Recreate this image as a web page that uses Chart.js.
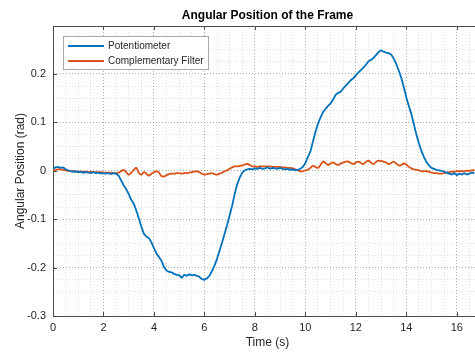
<!DOCTYPE html>
<html>
<head>
<meta charset="utf-8">
<script src="https://cdn.jsdelivr.net/npm/chart.js@4/dist/chart.umd.min.js"></script>
<style>
  html, body { margin: 0; padding: 0; background: #fff; }
  #wrap { width: 475px; height: 352px; overflow: hidden; }
  canvas { display: block; }
</style>
</head>
<body>
<div id="wrap"><canvas id="angle-chart" width="487" height="352"></canvas></div>
<script>
// Frame angle: potentiometer reading vs complementary filter estimate
const timeS = [
  0.0, 0.1, 0.2, 0.3, 0.4, 0.5, 0.6, 0.7, 0.8, 0.9,
  1.0, 1.1, 1.2, 1.3, 1.4, 1.5, 1.6, 1.7, 1.8, 1.9,
  2.0, 2.1, 2.2, 2.3, 2.4, 2.5, 2.6, 2.7, 2.8, 2.9,
  3.0, 3.1, 3.2, 3.3, 3.4, 3.5, 3.6, 3.7, 3.8, 3.9,
  4.0, 4.1, 4.2, 4.3, 4.4, 4.5, 4.6, 4.7, 4.8, 4.9,
  5.0, 5.1, 5.2, 5.3, 5.4, 5.5, 5.6, 5.7, 5.8, 5.9,
  6.0, 6.1, 6.2, 6.3, 6.4, 6.5, 6.6, 6.7, 6.8, 6.9,
  7.0, 7.1, 7.2, 7.3, 7.4, 7.5, 7.6, 7.7, 7.8, 7.9,
  8.0, 8.1, 8.2, 8.3, 8.4, 8.5, 8.6, 8.7, 8.8, 8.9,
  9.0, 9.1, 9.2, 9.3, 9.4, 9.5, 9.6, 9.7, 9.8, 9.9,
  10.0, 10.1, 10.2, 10.3, 10.4, 10.5, 10.6, 10.7, 10.8, 10.9,
  11.0, 11.1, 11.2, 11.3, 11.4, 11.5, 11.6, 11.7, 11.8, 11.9,
  12.0, 12.1, 12.2, 12.3, 12.4, 12.5, 12.6, 12.7, 12.8, 12.9,
  13.0, 13.1, 13.2, 13.3, 13.4, 13.5, 13.6, 13.7, 13.8, 13.9,
  14.0, 14.1, 14.2, 14.3, 14.4, 14.5, 14.6, 14.7, 14.8, 14.9,
  15.0, 15.1, 15.2, 15.3, 15.4, 15.5, 15.6, 15.7, 15.8, 15.9,
  16.0, 16.1, 16.2, 16.3, 16.4, 16.5, 16.6, 16.7
];

const potentiometer = [
  0.004, 0.007, 0.008, 0.006, 0.007, 0.003, 0.001, -0.001, -0.002, -0.001,
  -0.003, -0.002, -0.004, -0.003, -0.004, -0.005, -0.003, -0.005, -0.004, -0.006,
  -0.005, -0.006, -0.005, -0.007, -0.005, -0.006, -0.010, -0.020, -0.030, -0.038,
  -0.048, -0.060, -0.068, -0.082, -0.098, -0.115, -0.130, -0.136, -0.139, -0.148,
  -0.160, -0.171, -0.178, -0.186, -0.199, -0.206, -0.209, -0.210, -0.213, -0.215,
  -0.216, -0.221, -0.215, -0.217, -0.214, -0.216, -0.215, -0.217, -0.219, -0.224,
  -0.225, -0.222, -0.217, -0.207, -0.196, -0.182, -0.165, -0.148, -0.130, -0.112,
  -0.092, -0.072, -0.048, -0.028, -0.014, -0.004, 0.001, 0.003, 0.004, 0.003,
  0.005, 0.004, 0.006, 0.004, 0.005, 0.007, 0.004, 0.006, 0.005, 0.004,
  0.006, 0.004, 0.003, 0.004, 0.002, 0.003, 0.001, 0.002, 0.004, 0.008,
  0.016, 0.028, 0.040, 0.060, 0.080, 0.097, 0.110, 0.121, 0.128, 0.134,
  0.139, 0.147, 0.157, 0.161, 0.163, 0.170, 0.176, 0.181, 0.187, 0.191,
  0.197, 0.203, 0.208, 0.213, 0.219, 0.226, 0.229, 0.233, 0.239, 0.245,
  0.249, 0.246, 0.244, 0.243, 0.240, 0.232, 0.221, 0.207, 0.192, 0.173,
  0.152, 0.134, 0.117, 0.096, 0.075, 0.057, 0.041, 0.028, 0.018, 0.011,
  0.006, 0.004, 0.002, 0.001, 0.000, -0.002, -0.004, -0.006, -0.008, -0.005,
  -0.009, -0.006, -0.008, -0.005, -0.008, -0.006, -0.004, -0.005
];

const complementary = [
  -0.001, 0.002, 0.003, 0.003, 0.002, 0.001, 0.000, -0.001, -0.001, -0.002,
  -0.002, -0.002, -0.002, -0.002, -0.003, -0.002, -0.003, -0.003, -0.003, -0.003,
  -0.004, -0.004, -0.004, -0.004, -0.005, -0.005, -0.004, -0.001, 0.002, -0.003,
  -0.008, -0.004, 0.002, 0.006, -0.004, -0.008, -0.003, -0.006, -0.010, -0.006,
  -0.003, -0.001, -0.004, -0.011, -0.012, -0.009, -0.007, -0.006, -0.006, -0.005,
  -0.005, -0.006, -0.005, -0.005, -0.004, -0.003, -0.002, -0.001, -0.003, -0.006,
  -0.008, -0.007, -0.006, -0.005, -0.007, -0.008, -0.006, -0.004, -0.001, 0.001,
  0.004, 0.007, 0.009, 0.009, 0.010, 0.011, 0.013, 0.014, 0.012, 0.009,
  0.009, 0.008, 0.009, 0.009, 0.009, 0.009, 0.009, 0.008, 0.008, 0.008,
  0.008, 0.007, 0.007, 0.006, 0.006, 0.005, 0.003, 0.001, -0.001, -0.001,
  0.001, 0.002, 0.006, 0.010, 0.008, 0.006, 0.012, 0.019, 0.016, 0.012,
  0.015, 0.017, 0.014, 0.012, 0.015, 0.017, 0.019, 0.019, 0.016, 0.014,
  0.017, 0.019, 0.016, 0.014, 0.018, 0.021, 0.017, 0.014, 0.018, 0.021,
  0.020, 0.019, 0.017, 0.014, 0.016, 0.019, 0.015, 0.011, 0.012, 0.015,
  0.013, 0.008, 0.005, 0.003, 0.002, 0.001, -0.001, -0.001, -0.001, -0.002,
  -0.004, -0.005, -0.005, -0.006, -0.006, -0.005, -0.004, -0.003, -0.002, -0.002,
  -0.001, -0.001, -0.001, -0.001, 0.000, 0.000, 0.001, 0.001
];

const seriesLabels = ['Potentiometer', 'Complementary Filter'];
const xMajorStep = 2;
const yMajorStep = 0.1;

const FONT = "'Liberation Sans', Arial, Helvetica, sans-serif";
const AXIS_COLOR = '#4a4a4a';
const TEXT_COLOR = '#262626';

function isMajor(value, step) {
  const r = value / step;
  return Math.abs(r - Math.round(r)) < 1e-6;
}

function toPoints(values) {
  return values.map((v, i) => ({ x: timeS[i], y: v }));
}

// title centred over the plot box
const titlePlugin = {
  id: 'boxTitle',
  afterDraw(chart) {
    const { ctx, chartArea } = chart;
    ctx.save();
    ctx.font = `bold 12px ${FONT}`;
    ctx.fillStyle = '#000';
    ctx.textAlign = 'center';
    ctx.textBaseline = 'middle';
    ctx.fillText('Angular Position of the Frame', (chartArea.left + chartArea.right) / 2, 16);
    ctx.restore();
  }
};

// top box edge and inward major ticks
const boxPlugin = {
  id: 'boxTicks',
  afterDraw(chart) {
    const { ctx, chartArea, scales } = chart;
    const x = scales.x;
    const y = scales.y;
    ctx.save();
    ctx.strokeStyle = AXIS_COLOR;
    ctx.lineWidth = 1;
    ctx.beginPath();
    ctx.moveTo(chartArea.left, chartArea.top + 0.5);
    ctx.lineTo(chartArea.right, chartArea.top + 0.5);
    x.ticks.forEach(t => {
      if (!isMajor(t.value, xMajorStep)) return;
      const px = Math.round(x.getPixelForValue(t.value)) + 0.5;
      ctx.moveTo(px, chartArea.bottom);
      ctx.lineTo(px, chartArea.bottom - 4);
      ctx.moveTo(px, chartArea.top);
      ctx.lineTo(px, chartArea.top + 4);
    });
    y.ticks.forEach(t => {
      if (!isMajor(t.value, yMajorStep)) return;
      const py = Math.round(y.getPixelForValue(t.value)) + 0.5;
      ctx.moveTo(chartArea.left, py);
      ctx.lineTo(chartArea.left + 4, py);
    });
    ctx.stroke();
    ctx.restore();
  }
};

// boxed legend in the upper left corner
const legendPlugin = {
  id: 'boxLegend',
  afterDraw(chart) {
    const { ctx } = chart;
    const left = 63.5, top = 36.5, w = 145, h = 33;
    ctx.save();
    ctx.fillStyle = '#fff';
    ctx.fillRect(left, top, w, h);
    ctx.strokeStyle = '#a8a8a8';
    ctx.lineWidth = 1;
    ctx.strokeRect(left, top, w, h);
    ctx.font = `10px ${FONT}`;
    ctx.textBaseline = 'middle';
    chart.data.datasets.forEach((ds, i) => {
      const rowY = 46 + i * 15;
      ctx.strokeStyle = ds.borderColor;
      ctx.lineWidth = 1.8;
      ctx.beginPath();
      ctx.moveTo(68, rowY);
      ctx.lineTo(104, rowY);
      ctx.stroke();
      ctx.fillStyle = TEXT_COLOR;
      ctx.fillText(ds.label, 108, rowY + 0.5);
    });
    ctx.restore();
  }
};

const gridColor = step => ctx =>
  isMajor(ctx.tick.value, step) ? 'rgba(0,0,0,0.32)' : 'rgba(0,0,0,0.13)';

new Chart(document.getElementById('angle-chart'), {
  type: 'line',
  data: {
    datasets: [
      {
        label: seriesLabels[0],
        data: toPoints(potentiometer),
        borderColor: '#0072BD',
        borderWidth: 1.8,
        pointRadius: 0,
        tension: 0
      },
      {
        label: seriesLabels[1],
        data: toPoints(complementary),
        borderColor: '#D95319',
        borderWidth: 1.8,
        pointRadius: 0,
        tension: 0.4
      }
    ]
  },
  options: {
    responsive: false,
    animation: false,
    devicePixelRatio: 1,
    layout: { padding: { top: 26, right: 1, left: 0, bottom: 0 } },
    plugins: {
      legend: { display: false },
      title: { display: false },
      tooltip: { enabled: false }
    },
    scales: {
      x: {
        type: 'linear',
        min: 0,
        max: 17,
        afterFit(scale) { scale.height = 36; },
        ticks: {
          stepSize: 0.5,
          autoSkip: false,
          maxRotation: 0,
          padding: 5,
          color: TEXT_COLOR,
          font: { family: FONT, size: 11 },
          callback: v => (isMajor(v, xMajorStep) ? String(Math.round(v)) : '')
        },
        grid: { color: gridColor(xMajorStep), lineWidth: 1, drawTicks: false },
        border: { color: AXIS_COLOR, width: 1, dash: [1, 2] },
        title: {
          display: true,
          text: 'Time (s)',
          color: TEXT_COLOR,
          font: { family: FONT, size: 12 },
          padding: { top: 0, bottom: 2 }
        }
      },
      y: {
        type: 'linear',
        min: -0.3,
        max: 0.299,
        afterFit(scale) { scale.width = 53; },
        ticks: {
          stepSize: 0.025,
          autoSkip: false,
          padding: 7,
          color: TEXT_COLOR,
          font: { family: FONT, size: 11 },
          callback: v => {
            if (!isMajor(v, yMajorStep)) return '';
            const r = Math.round(v * 10) / 10;
            return r === 0 ? '0' : String(r);
          }
        },
        grid: { color: gridColor(yMajorStep), lineWidth: 1, drawTicks: false },
        border: { color: AXIS_COLOR, width: 1, dash: [1, 2] },
        title: {
          display: true,
          text: 'Angular Position (rad)',
          color: TEXT_COLOR,
          font: { family: FONT, size: 12 },
          padding: { top: 13, bottom: 0 }
        }
      }
    }
  },
  plugins: [titlePlugin, boxPlugin, legendPlugin]
});
</script>
</body>
</html>
